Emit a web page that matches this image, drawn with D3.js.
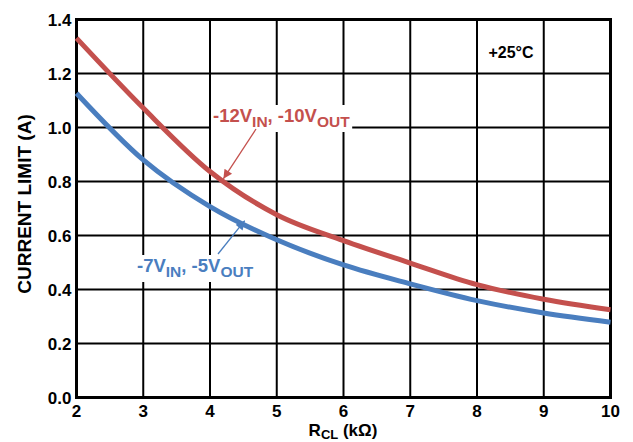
<!DOCTYPE html>
<html>
<head>
<meta charset="utf-8">
<script src="https://cdn.jsdelivr.net/npm/d3@7"></script>
<style>
  body { margin: 0; background: #fff; }
  text { font-family: Arial, "Liberation Sans", sans-serif; font-weight: bold; }
</style>
</head>
<body>
<svg id="chart" width="633" height="442"></svg>
<script>
// data
var rcl = [2, 3, 4, 5, 6, 7, 8, 9, 10];
var limit12 = [1.331, 1.072, 0.837, 0.677, 0.581, 0.498, 0.418, 0.364, 0.325];
var limit7 = [1.127, 0.880, 0.707, 0.584, 0.491, 0.421, 0.359, 0.313, 0.279];
var xTicks = [2, 3, 4, 5, 6, 7, 8, 9, 10];
var yTicks = [0, 0.2, 0.4, 0.6, 0.8, 1.0, 1.2, 1.4];

var red = "#c4504d";
var blue = "#4a7ebf";

var svg = d3.select("#chart");
var pLeft = 76.5, pRight = 610.5, pTop = 19.5, pBottom = 397.5;

var x = d3.scaleLinear().domain([2, 10]).range([pLeft, pRight]);
var y = d3.scaleLinear().domain([0, 1.4]).range([pBottom, pTop]);

//grid
svg.append("g").selectAll("line")
  .data(xTicks)
  .enter().append("line")
  .attr("x1", function(d) { return x(d); })
  .attr("x2", function(d) { return x(d); })
  .attr("y1", pTop).attr("y2", pBottom)
  .attr("stroke", "#000").attr("stroke-width", 2);

svg.append("g").selectAll("line")
  .data(yTicks)
  .enter().append("line")
  .attr("y1", function(d) { return y(d); })
  .attr("y2", function(d) { return y(d); })
  .attr("x1", pLeft).attr("x2", pRight)
  .attr("stroke", "#000").attr("stroke-width", 2);

svg.append("rect")
  .attr("x", pLeft).attr("y", pTop)
  .attr("width", pRight - pLeft).attr("height", pBottom - pTop)
  .attr("fill", "none").attr("stroke", "#000").attr("stroke-width", 3);

//tick labels
svg.append("g").selectAll("text")
  .data(yTicks)
  .enter().append("text")
  .attr("x", pLeft - 5)
  .attr("y", function(d) { return y(d) + 6; })
  .attr("text-anchor", "end")
  .attr("font-size", 17)
  .text(function(d) { return d3.format(".1f")(d); });

svg.append("g").selectAll("text")
  .data(xTicks)
  .enter().append("text")
  .attr("x", function(d) { return x(d); })
  .attr("y", pBottom + 19)
  .attr("text-anchor", "middle")
  .attr("font-size", 17)
  .text(function(d) { return d; });

// axis titles
var xt = svg.append("text")
  .attr("x", 343).attr("y", 436)
  .attr("text-anchor", "middle")
  .attr("font-size", 17);
xt.append("tspan").text("R");
xt.append("tspan").attr("dy", 3).attr("font-size", 13).text("CL");
xt.append("tspan").attr("dy", -3).text(" (kΩ)");

svg.append("text")
  .attr("transform", "translate(31,204) rotate(-90)")
  .attr("text-anchor", "middle")
  .attr("font-size", 19)
  .text("CURRENT LIMIT (A)");

// curves
var line = d3.line()
  .x(function(d, i) { return x(rcl[i]); })
  .y(function(d) { return y(d); })
  .curve(d3.curveMonotoneX);

svg.append("path").datum(limit12)
  .attr("d", line).attr("fill", "none")
  .attr("stroke", red).attr("stroke-width", 5);

svg.append("path").datum(limit7)
  .attr("d", line).attr("fill", "none")
  .attr("stroke", blue).attr("stroke-width", 5);

// annotations
var defs = svg.append("defs");
[["arRed", red], ["arBlue", blue]].forEach(function(a) {
  defs.append("marker")
    .attr("id", a[0])
    .attr("viewBox", "0 0 10 10")
    .attr("refX", 10).attr("refY", 5)
    .attr("markerWidth", 12).attr("markerHeight", 9)
    .attr("markerUnits", "userSpaceOnUse")
    .attr("orient", "auto")
    .append("path").attr("d", "M0,0 L10,5 L0,10 Z").attr("fill", a[1]);
});

function label(tx, ty, main1, sub1, main2, sub2, color) {
  var g = svg.append("g");
  var bg = g.append("rect").attr("fill", "#fff");
  var t = g.append("text").attr("x", tx).attr("y", ty)
    .attr("font-size", 18.5).attr("fill", color);
  t.append("tspan").text(main1);
  t.append("tspan").attr("dy", 5).attr("font-size", 15.5).text(sub1);
  t.append("tspan").attr("dy", -5).text(", " + main2);
  t.append("tspan").attr("dy", 5).attr("font-size", 15.5).text(sub2);
  var b = t.node().getBBox();
  bg.attr("x", b.x - 2).attr("y", b.y).attr("width", b.width + 4).attr("height", b.height + 2);
}

label(213, 122, "-12V", "IN", "-10V", "OUT", red);
label(137, 272, "-7V", "IN", "-5V", "OUT", blue);

svg.append("line")
  .attr("x1", 256).attr("y1", 129)
  .attr("x2", x(4.2)).attr("y2", y(0.81))
  .attr("stroke", red).attr("stroke-width", 1.3)
  .attr("marker-end", "url(#arRed)");

svg.append("line")
  .attr("x1", 218).attr("y1", 254)
  .attr("x2", x(4.52)).attr("y2", y(0.655))
  .attr("stroke", blue).attr("stroke-width", 1.3)
  .attr("marker-end", "url(#arBlue)");

svg.append("text")
  .attr("x", 511).attr("y", 58)
  .attr("text-anchor", "middle")
  .attr("font-size", 16)
  .text("+25°C");
</script>
</body>
</html>
